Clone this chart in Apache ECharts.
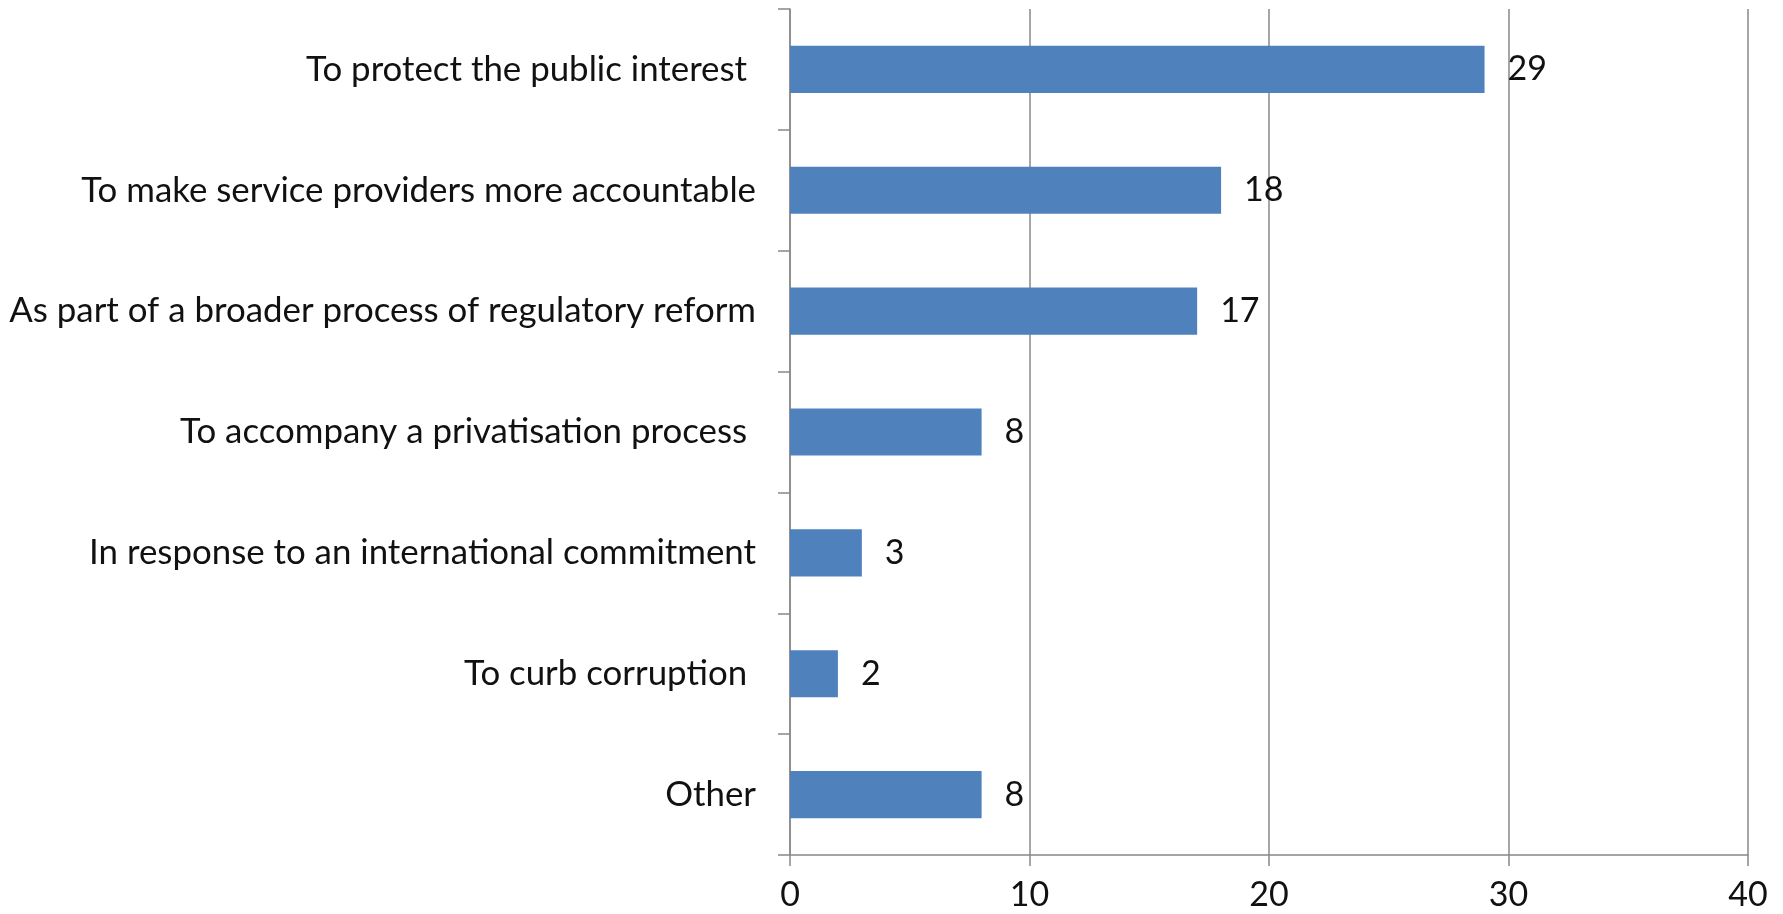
<!DOCTYPE html>
<html>
<head>
<meta charset="utf-8">
<script src="https://cdn.jsdelivr.net/npm/echarts@6/dist/echarts.min.js"></script>
<style>
html,body{margin:0;padding:0;background:#fff;}
#chart{width:1783px;height:914px;}
</style>
</head>
<body>
<div id="chart"></div>
<script>
const categories = [
  "To protect the public interest ",
  "To make service providers more accountable",
  "As part of a broader process of regulatory reform",
  "To accompany a privatisation process ",
  "In response to an international commitment",
  "To curb corruption ",
  "Other"
];
const values = [29, 18, 17, 8, 3, 2, 8];
const xTicks = [0, 10, 20, 30, 40];

const FONT = "Lato";
// fit category label font size so the longest label spans ~747px like the reference
const cv = document.createElement('canvas').getContext('2d');
cv.font = "100px " + FONT;
const longest = Math.max(...categories.map(c => cv.measureText(c.trim()).width));
const catFont = Math.min(38, 747 / longest * 100);

const chart = echarts.init(document.getElementById('chart'), null, {renderer: 'canvas'});
chart.setOption({
  animation: false,
  backgroundColor: '#ffffff',
  grid: {left: 790, right: 35, top: 9, bottom: 59, containLabel: false},
  xAxis: {
    type: 'value',
    min: xTicks[0],
    max: xTicks[xTicks.length - 1],
    interval: 10,
    axisLine: {show: true, lineStyle: {color: '#888888', width: 1.5}},
    axisTick: {show: true, length: 11, lineStyle: {color: '#888888', width: 1.5}},
    axisLabel: {color: '#111111', fontFamily: FONT, fontSize: 34, margin: 23},
    splitLine: {show: true, lineStyle: {color: '#888888', width: 1.5}}
  },
  yAxis: {
    type: 'category',
    data: categories,
    inverse: true,
    axisLine: {show: true, lineStyle: {color: '#888888', width: 1.5}},
    axisTick: {show: true, length: 12, alignWithLabel: false, lineStyle: {color: '#888888', width: 1.5}},
    axisLabel: {color: '#111111', fontFamily: FONT, fontSize: catFont, margin: 34}
  },
  series: [{
    type: 'bar',
    data: values,
    barWidth: '39%',
    itemStyle: {color: '#4F81BD'},
    label: {show: true, position: 'right', distance: 23, color: '#111111', fontFamily: FONT, fontSize: 34}
  }]
});
</script>
</body>
</html>
